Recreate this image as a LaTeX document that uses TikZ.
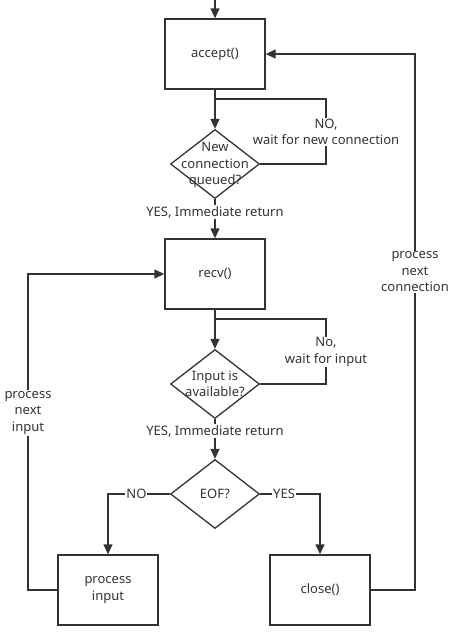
\documentclass[tikz,border=0pt]{standalone}
\usepackage{fontspec}
\setmainfont{Noto Sans}
\usetikzlibrary{shapes.geometric,arrows.meta}
\definecolor{ln}{HTML}{333333}
\begin{document}
\begin{tikzpicture}[x=1pt,y=-1pt,
  txt/.style={font=\fontsize{13}{16.5}\selectfont,text=ln,align=center,inner sep=1pt},
  box/.style={txt,draw=ln,line width=1.3pt,minimum width=100pt,minimum height=70pt,inner sep=0pt},
  dia/.style={draw=ln,line width=1.3pt,diamond,minimum width=89pt,minimum height=69pt,inner sep=0pt},
  lbl/.style={txt,fill=white},
  conn/.style={draw=ln,line width=1.3pt},
  arr/.style={conn,-{Triangle[length=10pt,width=9pt]}}]
\useasboundingbox (0,0) rectangle (454,633);
% nodes
\coordinate (top) at (215,0);
\node[box] (accept) at (215,54) {accept()};
\node[dia] (d1) at (215,164) {};
\node[txt] (d1t) at (215,165) {New\\connection\\queued?};
\node[box] (recv) at (215,274) {recv()};
\node[dia] (d2) at (215,384) {};
\node[txt] (d2t) at (215,384) {Input is\\available?};
\node[dia] (eof) at (215,494) {};
\node[txt] (eoft) at (eof) {EOF?};
\node[box] (pin) at (108,590) {process\\input};
\node[box] (close) at (320,590) {close()};
\coordinate (b1) at (215,99);
\coordinate (b1r) at (326,99);
\coordinate (b2) at (215,319);
\coordinate (b2r) at (326,319);
\coordinate (L) at (28,590);
\coordinate (R) at (415,590);
% connectors
\draw[arr] (top) -- (accept.north);
\draw[arr] (accept.south) -- (d1.north);
\draw[conn] (d1.east) -| (b1r) -- (b1);
\node[lbl] (l1) at (326,132) {NO,\\wait for new connection};
\draw[arr] (d1.south) -- (recv.north);
\node[lbl] (l2) at (215,212) {YES, Immediate return};
\draw[arr] (recv.south) -- (d2.north);
\draw[conn] (d2.east) -| (b2r) -- (b2);
\node[lbl] (l3) at (326,352) {No,\\wait for input};
\draw[arr] (d2.south) -- (eof.north);
\node[lbl] (l4) at (215,431) {YES, Immediate return};
\draw[arr] (eof.west) -| node[lbl,pos=0.27] (l5) {NO} (pin.north);
\draw[arr] (eof.east) -| node[lbl,pos=0.2] (l6) {YES} (close.north);
\draw[arr] (pin.west) -- (L) |- (recv.west);
\node[lbl] (l7) at (28,413) {process\\next\\input};
\draw[arr] (close.east) -- (R) |- (accept.east);
\node[lbl] (l8) at (415,272) {process\\next\\connection};
\end{tikzpicture}
\end{document}
